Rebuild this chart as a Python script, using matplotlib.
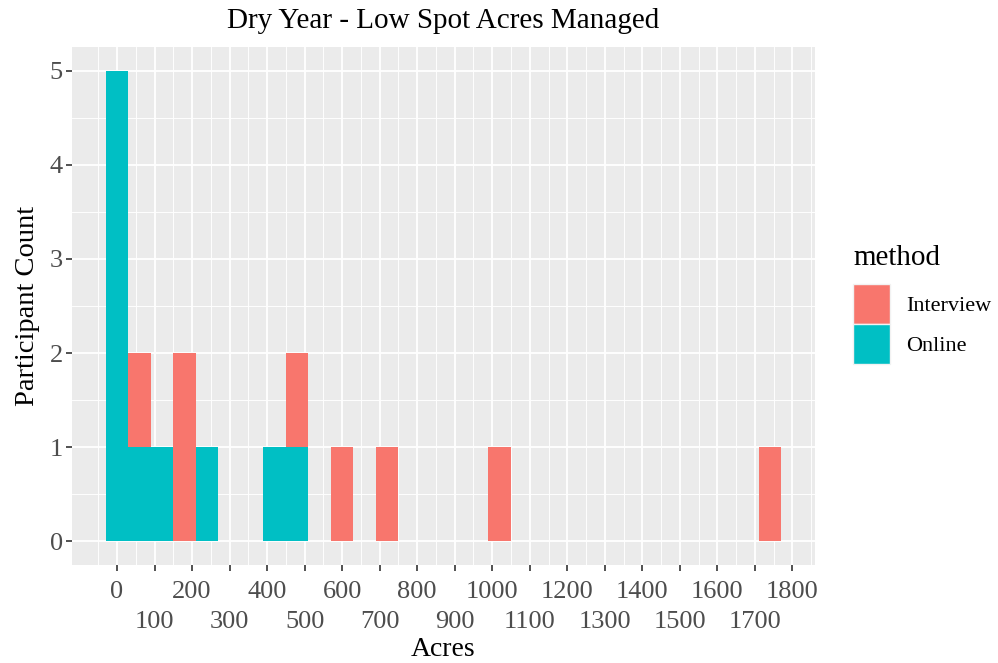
import matplotlib
matplotlib.use('Agg')
import matplotlib.pyplot as plt
from matplotlib.patches import Patch
from matplotlib.ticker import MultipleLocator, FixedLocator

# binned counts (bin width 60 acres, centres)
BIN_WIDTH = 60
online_bins   = [0, 60, 120, 240, 420, 480]
online_counts = [5, 1, 1, 1, 1, 1]
interview_bins   = [60, 180, 480, 600, 720, 1020, 1740]
interview_counts = [1, 2, 1, 1, 1, 1, 1]

X_BREAKS = list(range(0, 1801, 100))
Y_BREAKS = [0, 1, 2, 3, 4, 5]

C_INTERVIEW = '#F8766D'
C_ONLINE    = '#00BFC4'

plt.rcParams['font.family'] = ['Liberation Serif', 'DejaVu Serif']

fig = plt.figure(figsize=(9.98, 6.63), dpi=100)
ax = fig.add_axes([0.0721, 0.1478, 0.8166 - 0.0721, 0.9291 - 0.1478])
ax.set_facecolor('#EBEBEB')

# stacked: interview sits on top of online in shared bins
online_lookup = dict(zip(online_bins, online_counts))
ax.bar(online_bins, online_counts, width=BIN_WIDTH, color=C_ONLINE,
       linewidth=0, zorder=3)
ax.bar(interview_bins, interview_counts, width=BIN_WIDTH,
       bottom=[online_lookup.get(b, 0) for b in interview_bins],
       color=C_INTERVIEW, linewidth=0, zorder=3)

ax.set_xlim(-120, 1860)
ax.set_ylim(-0.25, 5.25)

# ticks every 100; labels dodged over two rows
ax.xaxis.set_major_locator(FixedLocator(X_BREAKS))
ax.xaxis.set_minor_locator(FixedLocator([b - 50 for b in X_BREAKS] + [1850]))
ax.set_xticklabels([str(b) if i % 2 == 0 else ''
                    for i, b in enumerate(X_BREAKS)])
ax.yaxis.set_major_locator(FixedLocator(Y_BREAKS))
ax.yaxis.set_minor_locator(MultipleLocator(0.5))

ax.grid(which='major', color='white', linewidth=1.3, zorder=1)
ax.grid(which='minor', color='white', linewidth=0.65, zorder=1)
ax.set_axisbelow(True)
for s in ax.spines.values():
    s.set_visible(False)

ax.tick_params(which='major', length=4.5, width=1.2, color='#333333',
               labelcolor='#4D4D4D', labelsize=19, pad=2)
ax.tick_params(axis='x', which='major', pad=7)
ax.tick_params(which='minor', length=0)

# second row of x labels
odd = X_BREAKS[1::2]
sec = ax.secondary_xaxis('bottom')
sec.set_xticks(odd)
sec.set_xticklabels([str(b) for b in odd])
sec.tick_params(length=0, pad=33, labelsize=19, labelcolor='#4D4D4D')
sec.spines['bottom'].set_visible(False)

ax.set_xlabel('Acres', fontsize=20)
ax.xaxis.set_label_coords(0.5, -0.163)
ax.xaxis.label.set_va('center')
ax.set_ylabel('Participant Count', fontsize=20.5, labelpad=7)
ax.set_title('Dry Year - Low Spot Acres Managed', fontsize=21, pad=14)

# legend: title placed separately to leave a gap above the keys
fig.text(0.855, 0.611, 'method', fontsize=21, ha='left', va='center')
handles = [Patch(facecolor=C_INTERVIEW, edgecolor='#F2F2F2', linewidth=1),
           Patch(facecolor=C_ONLINE, edgecolor='#F2F2F2', linewidth=1)]
leg = fig.legend(handles, ['Interview', 'Online'],
                 loc='upper left', bbox_to_anchor=(0.855, 0.571),
                 frameon=False, fontsize=16,
                 handlelength=1.67, handleheight=2.39, labelspacing=0.0,
                 handletextpad=0.7, borderpad=0, borderaxespad=0)

fig.savefig('out.png', dpi=100)
